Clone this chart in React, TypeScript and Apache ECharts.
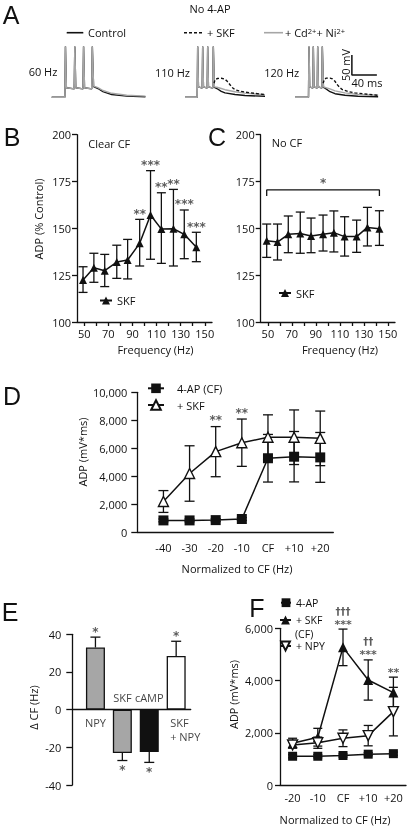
import React, { useEffect, useRef } from 'react';
import * as echarts from 'echarts';

// ---------------- Panel A: membrane potential traces [time (ms), Vm (mV)] ----------------
const trace60Control = [[0,-70],[21,-70],[22,57],[23.5,-46],[36,-49],[37,57],[38.5,-46],[50,-49],[51,57],[52.5,-46],[64,-49],[65,57],[67,-43],[74,-48],[82,-56],[96,-63],[120,-67],[150,-68.5]];
const trace60Cd = [[0,-70],[21,-70],[22,57],[23.5,-46],[36,-49],[37,57],[38.5,-46],[50,-49],[51,57],[52.5,-46],[64,-49],[65,57],[67,-42],[74,-46],[82,-53],[96,-60],[120,-65],[150,-67]];
const trace110Control = [[0,-70],[19.5,-70],[20.3,57],[21.5,-44],[27.5,-47],[28.3,57],[29.5,-44],[35.5,-47],[36.3,57],[37.5,-44],[44.5,-47],[45.3,57],[47,-45],[51,-48],[58,-55],[64,-59],[80,-63],[96,-65.5],[128,-67.5]];
const trace110Cd = [[0,-70],[19.5,-70],[20.3,57],[21.5,-44],[27.5,-47],[28.3,57],[29.5,-44],[35.5,-47],[36.3,57],[37.5,-44],[44.5,-47],[45.3,57],[47,-44],[51,-45],[58,-48],[64,-51],[80,-56],[96,-59.5],[128,-63.5]];
const trace110Skf = [[46.5,-35],[48,-26],[52,-23],[58,-22.5],[63,-24],[67,-29],[72,-38.5],[76,-46],[80,-51],[88,-54.5],[96,-57],[128,-63.5]];
const trace120Control = [[0,-70],[21.6,-70],[22.4,57],[23.5,-44],[28.6,-47],[29.3,57],[30.4,-44],[35.6,-47],[36.3,57],[37.4,-44],[43,-47],[43.7,57],[45.5,-45],[48,-47],[56,-56],[64,-61],[80,-65],[101,-67.5],[133,-68.5]];
const trace120Cd = [[0,-70],[21.6,-70],[22.4,57],[23.5,-44],[28.6,-47],[29.3,57],[30.4,-44],[35.6,-47],[36.3,57],[37.4,-44],[43,-47],[43.7,57],[45.5,-44],[48,-45],[56,-49],[64,-54],[80,-59],[101,-63],[133,-65]];
const trace120Skf = [[45,-35],[47,-25],[50,-22],[56,-22],[60,-24],[64,-30],[68,-39],[72,-46],[76,-51],[86,-56],[96,-59],[133,-65]];
const scaleBar = [[91,36],[91,-14],[131,-14]]; // 50 mV, 40 ms

// ---------------- Panel B: Clear CF ----------------
const freqHz = [49, 58, 67, 77, 86, 96, 105, 114, 124, 133, 143];
const adpB = [122.4, 129, 127.4, 132, 133.1, 142, 157.1, 149.6, 149.8, 146.8, 139.9];
const adpBHigh = [129.5, 136.7, 136.1, 141, 144.1, 154.8, 180.8, 169, 170.8, 159.8, 147.9];
const adpBLow = [115.8, 121.2, 118.9, 123.3, 123, 129.9, 133.5, 131.3, 129.9, 133.8, 132.2];
const starsB = ['', '', '', '', '', '**', '***', '**', '**', '***', '***'];
const freqTicks = [50, 60, 70, 80, 90, 100, 110, 120, 130, 140, 150];
const freqLabels = [50, 70, 90, 110, 130, 150];
const adpPctTicks = [100, 125, 150, 175, 200];

// ---------------- Panel C: No CF ----------------
const adpC = [143.4, 142.7, 146.8, 147.3, 145.9, 146.8, 147.7, 145.6, 145.6, 150.5, 149.8];
const adpCHigh = [152.3, 152.3, 156.6, 158.7, 155.5, 157.1, 159.3, 156.2, 154.4, 161.2, 159.4];
const adpCLow = [134.5, 133.1, 137, 136.7, 137, 137.9, 137.4, 135.2, 137.2, 140.6, 140.9];
const bracketC = { level: 170.5, drop: 167.3, star: '*' };

// ---------------- Panel D ----------------
const labelsD = ['-40', '-30', '-20', '-10', 'CF', '+10', '+20'];
const ap4D = [850, 850, 870, 950, 5290, 5400, 5350];
const ap4DErr = [100, 100, 100, 100, 1700, 1800, 1780];
const skfD = [2200, 4200, 5760, 6400, 6790, 6790, 6710];
const skfDErr = [780, 1980, 1790, 1690, 1600, 1950, 1950];
const starsD = ['', '', '**', '**', '', '', ''];

// ---------------- Panel E ----------------
const labelsE = ['NPY', 'SKF', 'cAMP', 'SKF\n+ NPY'];
const deltaCF = [33, -23, -22.5, 28.5];
const deltaCFErr = [5.5, 4, 5.5, 7.8];
const starsE = ['*', '*', '*', '*'];

// ---------------- Panel F ----------------
const labelsF = ['-20', '-10', 'CF', '+10', '+20'];
const ap4F = [1100, 1100, 1130, 1180, 1200];
const ap4FErr = [60, 60, 60, 60, 60];
const skfF = [1600, 1830, 5270, 4020, 3540];
const skfFErr = [190, 340, 700, 770, 590];
const npyF = [1530, 1620, 1790, 1890, 2810];
const npyFErr = [100, 215, 320, 390, 930];
const starsF = ['', '', '***', '***', '**'];
const daggersF = ['', '', '†††', '††', ''];

// ---------------- styles ----------------
const FONT = 'Open Sans';
const LETTER_FONT = 'Liberation Sans';
const INK = '#111';
const GRAY = '#a6a6a6';
const barFills = ['#a6a6a6', '#a6a6a6', '#111111', '#ffffff'];

const axisLine = { show: true, onZero: false, lineStyle: { color: INK, width: 1.3 } };
const axisTick = { show: true, length: 5, lineStyle: { color: INK, width: 1.3 } };
const labelStyle = { fontFamily: FONT, fontSize: 11, color: INK };

function errorBars(gi: number, rows: number[][], capW: number, capFrom = true, capTo = true) {
  return {
    type: 'custom', xAxisIndex: gi, yAxisIndex: gi, silent: true, clip: false, z: 1,
    encode: { x: 0, y: [1, 2] },
    data: rows,
    renderItem: (params: any, api: any) => {
      const x = api.value(0);
      const a = api.coord([x, api.value(1)]);
      const b = api.coord([x, api.value(2)]);
      const h = capW / 2;
      const style = { stroke: INK, lineWidth: 1.3 };
      const children: any[] = [{ type: 'line', shape: { x1: a[0], y1: a[1], x2: b[0], y2: b[1] }, style }];
      if (capFrom) children.push({ type: 'line', shape: { x1: a[0] - h, y1: a[1], x2: a[0] + h, y2: a[1] }, style });
      if (capTo) children.push({ type: 'line', shape: { x1: b[0] - h, y1: b[1], x2: b[0] + h, y2: b[1] }, style });
      return { type: 'group', children };
    },
  };
}

function textMarks(gi: number, rows: any[], position: string, distance: number, extra: any = {}) {
  return {
    type: 'scatter', xAxisIndex: gi, yAxisIndex: gi, symbolSize: 1, silent: true, z: 6,
    itemStyle: { color: 'transparent' },
    data: rows.map((r) => ({ value: [r[0], r[1]], name: r[2], label: r[3] || {} })),
    label: {
      show: true, position, distance, formatter: (p: any) => p.name, ...labelStyle,
      textBorderWidth: 0, lineHeight: 12, ...extra,
    },
  };
}

function traceSeries(gi: number, data: number[][], color: string, dashed = false) {
  return {
    type: 'line', xAxisIndex: gi, yAxisIndex: gi, data, showSymbol: false, symbol: 'none', silent: true,
    lineStyle: { color, width: 1.4, type: dashed ? [3, 2] : 'solid' }, z: dashed ? 4 : 3,
  };
}

function txt(text: string, x: number, y: number, style: any = {}, rotation = 0) {
  return {
    type: 'text', x, y, rotation, silent: true,
    style: { text, fontFamily: FONT, fontSize: 11, fill: INK, align: 'center', verticalAlign: 'middle', ...style },
  };
}

function letter(text: string, x: number, y: number) {
  return txt(text, x, y, { fontFamily: LETTER_FONT, fontSize: 25, lineHeight: 20 });
}

export default function App() {
  const ref = useRef<HTMLDivElement>(null);
  useEffect(() => {
    if (!ref.current) return;
    const chart = echarts.init(ref.current, null, { renderer: 'svg' });

    const gridBase = { containLabel: false, outerBoundsMode: 'none', show: false };
    const grid = [
      { left: 51.7, top: 45.3, width: 100, height: 56 },
      { left: 185, top: 45.3, width: 100, height: 56 },
      { left: 295, top: 45.3, width: 100, height: 56 },
      { left: 77, top: 134.7, width: 135, height: 187.3 },
      { left: 260.7, top: 134.7, width: 134.3, height: 187.3 },
      { left: 137.3, top: 392.3, width: 196, height: 140 },
      { left: 72.3, top: 634.3, width: 118.4, height: 150.7 },
      { left: 280, top: 628.3, width: 126, height: 156.7 },
    ].map((g) => ({ ...gridBase, ...g }));

    const hiddenX = (gi: number) => ({ gridIndex: gi, type: 'value', min: 0, max: 160, show: false });
    const hiddenY = (gi: number) => ({ gridIndex: gi, type: 'value', min: -80, max: 60, show: false });

    const freqX = (gi: number) => ({
      gridIndex: gi, type: 'value', min: 44, max: 156,
      axisLine, axisTick: { ...axisTick, length: 4, customValues: freqTicks },
      axisLabel: { ...labelStyle, margin: 6, customValues: freqLabels },
      splitLine: { show: false },
    });
    const pctY = (gi: number) => ({
      gridIndex: gi, type: 'value', min: 100, max: 200, interval: 25,
      axisLine, axisTick, axisLabel: { ...labelStyle, margin: 6, customValues: adpPctTicks }, splitLine: { show: false },
    });

    const xAxis = [
      hiddenX(0), hiddenX(1), hiddenX(2),
      freqX(3), freqX(4),
      {
        gridIndex: 5, type: 'value', min: -1, max: 6.5,
        axisLine, axisTick: { show: false },
        axisLabel: { ...labelStyle, margin: 10, customValues: labelsD.map((_, i) => i), formatter: (v: number) => labelsD[Math.round(v)] },
        splitLine: { show: false },
      },
      {
        gridIndex: 6, type: 'value', min: -0.86, max: 3.54,
        axisLine: { show: true, onZero: true, lineStyle: { color: INK, width: 1.3 } },
        axisTick: { show: false }, axisLabel: { show: false }, splitLine: { show: false },
      },
      {
        gridIndex: 7, type: 'value', min: -0.5, max: 4.5,
        axisLine, axisTick: { show: false },
        axisLabel: { ...labelStyle, margin: 7, customValues: labelsF.map((_, i) => i), formatter: (v: number) => labelsF[Math.round(v)] },
        splitLine: { show: false },
      },
    ];

    const yAxis = [
      hiddenY(0), hiddenY(1), hiddenY(2),
      pctY(3), pctY(4),
      {
        gridIndex: 5, type: 'value', min: 0, max: 10000, interval: 2000,
        axisLine, axisTick: { ...axisTick, length: 6 },
        axisLabel: { ...labelStyle, margin: 10, formatter: (v: number) => v.toLocaleString('en-US') },
        splitLine: { show: false },
      },
      {
        gridIndex: 6, type: 'value', min: -40, max: 40, interval: 20,
        axisLine, axisTick: { ...axisTick, length: 6 },
        axisLabel: { ...labelStyle, margin: 11 }, splitLine: { show: false },
      },
      {
        gridIndex: 7, type: 'value', min: 0, max: 6000, interval: 2000,
        axisLine, axisTick,
        axisLabel: { ...labelStyle, margin: 7, formatter: (v: number) => v.toLocaleString('en-US') },
        splitLine: { show: false },
      },
    ];

    const markerLine = { color: INK, width: 1.5 };
    const starText = { fontSize: 12, fontFamily: 'DejaVu Sans', fontWeight: 'bold', lineHeight: 12, color: '#333' };
    const series: any[] = [
      // A
      traceSeries(0, trace60Control, INK), traceSeries(0, trace60Cd, GRAY),
      traceSeries(1, trace110Control, INK), traceSeries(1, trace110Cd, GRAY), traceSeries(1, trace110Skf, INK, true),
      traceSeries(2, trace120Control, INK), traceSeries(2, trace120Cd, GRAY), traceSeries(2, trace120Skf, INK, true),
      { type: 'line', xAxisIndex: 2, yAxisIndex: 2, data: scaleBar, showSymbol: false, symbol: 'none', silent: true, lineStyle: { color: INK, width: 1.5 } },
      // B
      errorBars(3, freqHz.map((f, i) => [f, adpBLow[i], adpBHigh[i]]), 9),
      { name: 'SKF', type: 'line', xAxisIndex: 3, yAxisIndex: 3, data: freqHz.map((f, i) => [f, adpB[i]]), symbol: 'triangle', symbolSize: 8, itemStyle: { color: INK }, lineStyle: markerLine, z: 3 },
      textMarks(3, freqHz.map((f, i) => [f, adpBHigh[i], starsB[i]]).filter((r) => r[2]), 'top', -1, starText),
      // C
      errorBars(4, freqHz.map((f, i) => [f, adpCLow[i], adpCHigh[i]]), 9),
      { name: 'SKF', type: 'line', xAxisIndex: 4, yAxisIndex: 4, data: freqHz.map((f, i) => [f, adpC[i]]), symbol: 'triangle', symbolSize: 8, itemStyle: { color: INK }, lineStyle: markerLine, z: 3 },
      {
        type: 'line', xAxisIndex: 4, yAxisIndex: 4, silent: true, showSymbol: false, symbol: 'none', lineStyle: { color: INK, width: 1.3 },
        data: [[freqHz[0], bracketC.drop], [freqHz[0], bracketC.level], [freqHz[freqHz.length - 1], bracketC.level], [freqHz[freqHz.length - 1], bracketC.drop]],
      },
      textMarks(4, [[(freqHz[0] + freqHz[freqHz.length - 1]) / 2, bracketC.level, bracketC.star]], 'top', 0, starText),
      // D
      errorBars(5, ap4D.map((v, i) => [i, v - ap4DErr[i], v + ap4DErr[i]]), 10),
      errorBars(5, skfD.map((v, i) => [i, v - skfDErr[i], v + skfDErr[i]]), 10),
      { name: '4-AP (CF)', type: 'line', xAxisIndex: 5, yAxisIndex: 5, data: ap4D.map((v, i) => [i, v]), symbol: 'rect', symbolSize: 10, itemStyle: { color: INK }, lineStyle: markerLine, z: 3 },
      { name: '+ SKF', type: 'line', xAxisIndex: 5, yAxisIndex: 5, data: skfD.map((v, i) => [i, v]), symbol: 'triangle', symbolSize: 10, itemStyle: { color: '#fff', borderColor: INK, borderWidth: 1.4 }, lineStyle: markerLine, z: 4 },
      textMarks(5, skfD.map((v, i) => [i, v + skfDErr[i], starsD[i]]).filter((r) => r[2]), 'top', 0, starText),
      // E
      {
        type: 'bar', xAxisIndex: 6, yAxisIndex: 6, barWidth: 19, silent: true, z: 2,
        data: deltaCF.map((v, i) => ({ value: [i, v], itemStyle: { color: barFills[i], borderColor: INK, borderWidth: 1.3 } })),
      },
      errorBars(6, deltaCF.map((v, i) => [i, v, v + Math.sign(v) * deltaCFErr[i]]), 10, false, true),
      textMarks(6, deltaCF.map((v, i) => [i, v + Math.sign(v) * deltaCFErr[i], starsE[i], v > 0 ? { position: 'top', distance: -1 } : { position: 'bottom', distance: 3 }]), 'top', 0, starText),
      textMarks(6, deltaCF.map((v, i) => [i, 0, labelsE[i], v > 0 ? { position: 'bottom', distance: 5, align: i === 3 ? 'left' : 'center', offset: i === 3 ? [-6, 0] : [0, 0] } : { position: 'top', distance: 5 }]), 'top', 5, { lineHeight: 14 }),
      // F
      errorBars(7, ap4F.map((v, i) => [i, v - ap4FErr[i], v + ap4FErr[i]]), 9),
      errorBars(7, skfF.map((v, i) => [i, v - skfFErr[i], v + skfFErr[i]]), 9),
      errorBars(7, npyF.map((v, i) => [i, v - npyFErr[i], v + npyFErr[i]]), 9),
      { name: '4-AP', type: 'line', xAxisIndex: 7, yAxisIndex: 7, data: ap4F.map((v, i) => [i, v]), symbol: 'rect', symbolSize: 9, itemStyle: { color: INK }, lineStyle: markerLine, z: 3 },
      { name: '+ SKF (CF)', type: 'line', xAxisIndex: 7, yAxisIndex: 7, data: skfF.map((v, i) => [i, v]), symbol: 'triangle', symbolSize: 10, itemStyle: { color: INK }, lineStyle: markerLine, z: 4 },
      { name: '+ NPY', type: 'line', xAxisIndex: 7, yAxisIndex: 7, data: npyF.map((v, i) => [i, v]), symbol: 'triangle', symbolRotate: 180, symbolSize: 10, itemStyle: { color: '#fff', borderColor: INK, borderWidth: 1.4 }, lineStyle: markerLine, z: 5 },
      textMarks(7, skfF.map((v, i) => [i, v + skfFErr[i], starsF[i]]).filter((r) => r[2]), 'top', -1, { ...starText, fontSize: 11, lineHeight: 11 }),
      textMarks(7, skfF.map((v, i) => [i, v + skfFErr[i], daggersF[i]]).filter((r) => r[2]), 'top', 12, { fontSize: 10, fontFamily: 'DejaVu Sans', fontWeight: 'bold', lineHeight: 11, color: '#333' }),
    ];

    const legendText = { ...labelStyle };
    const legendTextF = { ...labelStyle, fontSize: 10.5, lineHeight: 11 };
    const legend = [
      { data: ['SKF'], left: 99, top: 295, itemWidth: 12, itemHeight: 10, padding: 0, selectedMode: false, textStyle: legendText },
      { data: ['SKF'], left: 278, top: 287.5, itemWidth: 12, itemHeight: 10, padding: 0, selectedMode: false, textStyle: legendText },
      { data: ['4-AP (CF)', '+ SKF'], orient: 'vertical', left: 147, top: 381.8, itemWidth: 16, itemHeight: 12, itemGap: 3.7, padding: 0, selectedMode: false, textStyle: { ...legendText, lineHeight: 13, padding: [0, 0, 0, 8] } },
      { data: ['4-AP'], left: 280, top: 597.2, itemWidth: 10, itemHeight: 11, padding: 0, selectedMode: false, textStyle: legendTextF },
      { data: ['+ SKF (CF)'], left: 279, top: 614.5, itemWidth: 11, itemHeight: 11, padding: 0, selectedMode: false, textStyle: legendTextF, formatter: () => '+ SKF' },
      { data: ['+ NPY'], left: 279, top: 640.5, itemWidth: 11, itemHeight: 11, padding: 0, selectedMode: false, textStyle: legendTextF },
    ];

    const graphic = [
      letter('A', 11, 15), letter('B', 12, 137), letter('C', 217, 137), letter('D', 12, 396), letter('E', 10, 612), letter('F', 257, 608),
      txt('No 4-AP', 210, 8.5),
      { type: 'line', silent: true, shape: { x1: 66.7, y1: 32.7, x2: 83.3, y2: 32.7 }, style: { stroke: INK, lineWidth: 1.6 } },
      txt('Control', 88, 32.7, { align: 'left' }),
      { type: 'line', silent: true, shape: { x1: 184, y1: 32.7, x2: 203, y2: 32.7 }, style: { stroke: INK, lineWidth: 1.4, lineDash: [3, 2] } },
      txt('+ SKF', 207, 32.7, { align: 'left' }),
      { type: 'line', silent: true, shape: { x1: 264, y1: 32.7, x2: 283, y2: 32.7 }, style: { stroke: GRAY, lineWidth: 1.6 } },
      txt('+ Cd{s|2+}+ Ni{s|2+}', 285, 32.7, { align: 'left', rich: { s: { fontFamily: FONT, fontSize: 7.5, verticalAlign: 'top', lineHeight: 9, fill: INK } } }),
      txt('60 Hz', 43, 71.7), txt('110 Hz', 172.5, 72), txt('120 Hz', 281.7, 72),
      txt('50 mV', 345, 65, {}, Math.PI / 2), txt('40 ms', 367, 82),
      txt('Clear CF', 88.3, 143.3, { align: 'left' }), txt('No CF', 271.7, 142.7, { align: 'left' }),
      txt('ADP (% Control)', 38, 219, {}, Math.PI / 2),
      txt('Frequency (Hz)', 155.5, 349.5), txt('Frequency (Hz)', 340, 349.5),
      txt('ADP (mV*ms)', 82.5, 452, {}, Math.PI / 2),
      txt('Normalized to CF (Hz)', 237, 568),
      txt('\u0394 CF (Hz)', 33, 707.5, {}, Math.PI / 2),
      txt('ADP (mV*ms)', 233, 694.5, {}, Math.PI / 2),
      txt('(CF)', 295, 633.5, { align: 'left', fontSize: 10.5 }),
      txt('Normalized to CF (Hz)', 335, 819.5),
    ];

    chart.setOption({
      animation: false,
      backgroundColor: '#ffffff',
      textStyle: { fontFamily: FONT },
      grid, xAxis, yAxis, series, legend, graphic,
    });
    return () => chart.dispose();
  }, []);

  return <div ref={ref} style={{ position: 'fixed', left: 0, top: 0, width: 410, height: 827, background: '#fff', filter: 'grayscale(1)' }} />;
}
